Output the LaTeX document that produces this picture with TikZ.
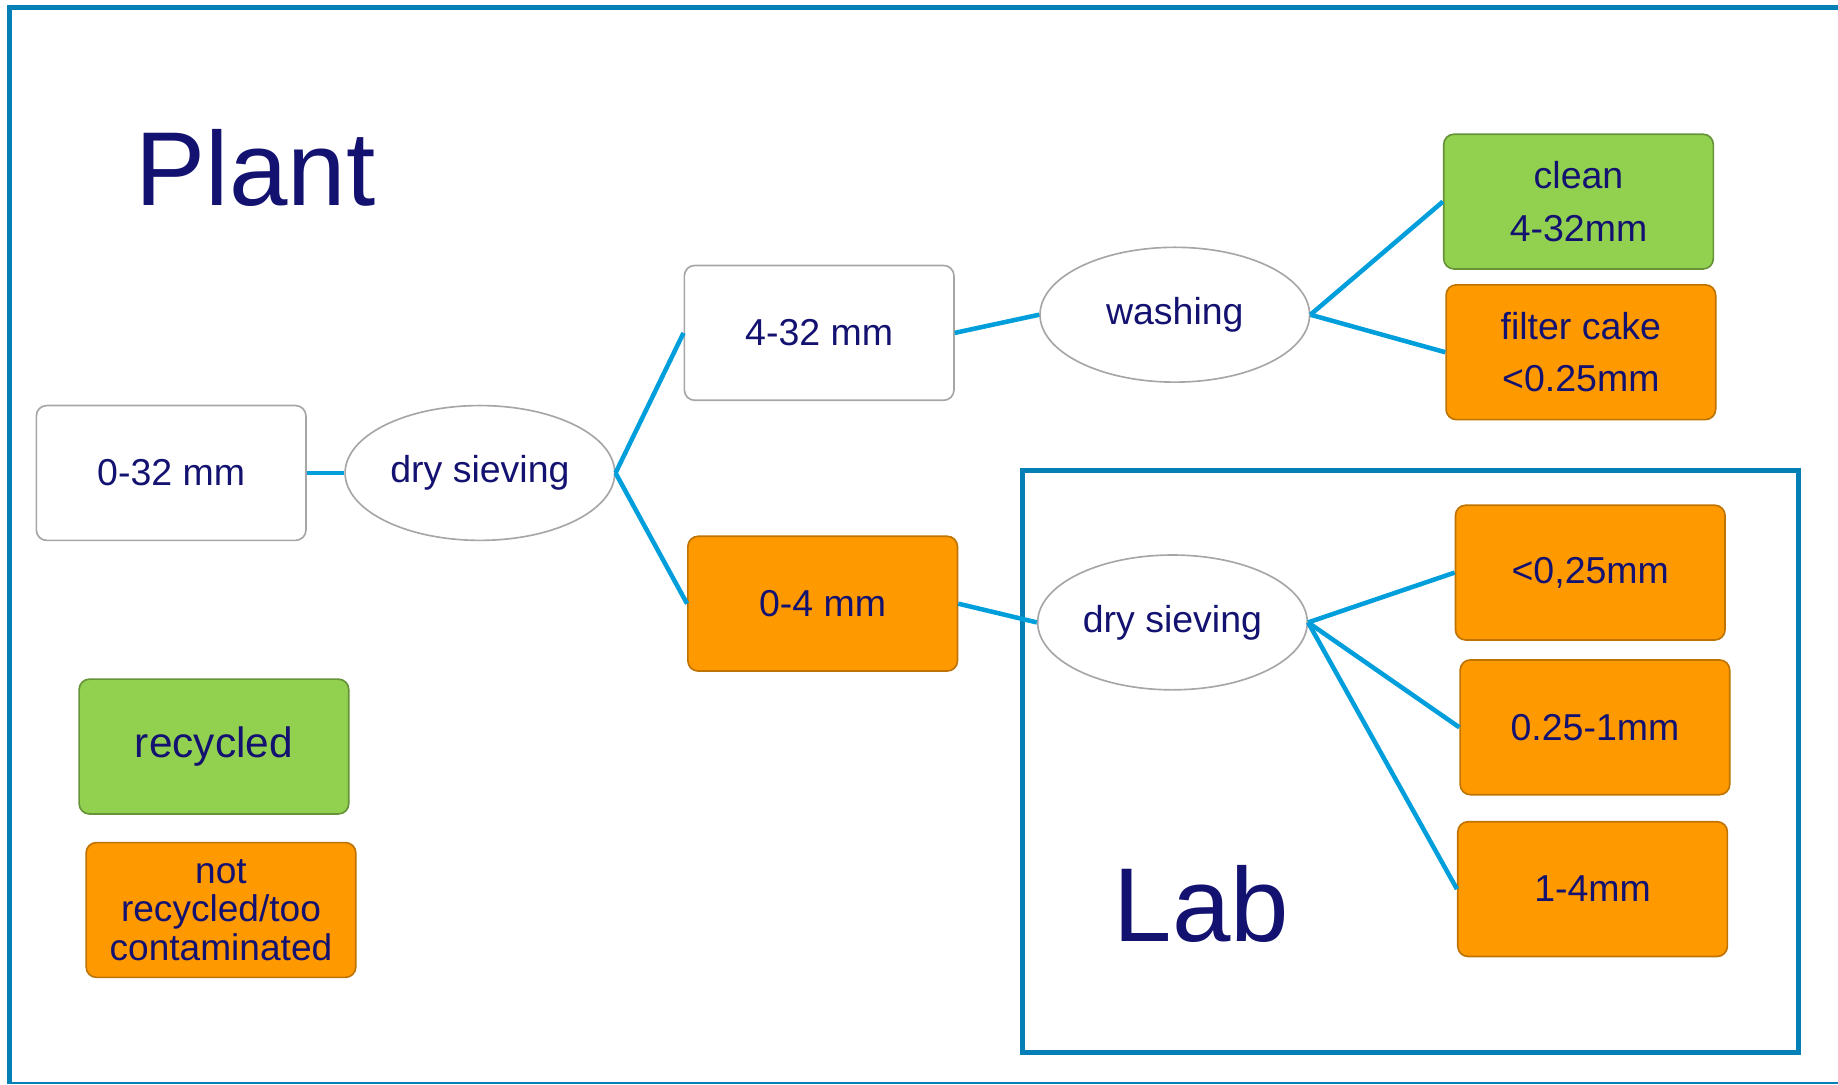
\documentclass[tikz,border=0pt]{standalone}
\usepackage{fontspec}
\setmainfont{Liberation Sans}
\usepackage{xcolor}
\usepackage{tikz}
\usetikzlibrary{positioning,shapes.geometric}

\definecolor{navytext}{RGB}{20,18,112}
\definecolor{frameblue}{RGB}{5,128,182}
\definecolor{linkblue}{RGB}{0,158,219}
\definecolor{recgreen}{RGB}{146,208,80}
\definecolor{recorange}{RGB}{255,153,0}

\begin{document}
\begin{tikzpicture}[
    box/.style={draw=gray!70, rounded corners=2.5pt, minimum height=1.15cm, minimum width=2.3cm, align=center, text=navytext, font=\fontsize{9.1}{12.8}\selectfont},
    oval/.style={ellipse, draw=gray!70, inner sep=0pt, minimum height=1.15cm, minimum width=2.3cm, align=center, text=navytext, font=\fontsize{9.1}{12.8}\selectfont},
    good/.style={box, fill=recgreen, draw=recgreen!70!black},
    bad/.style={box, fill=recorange, draw=recorange!75!black},
    link/.style={draw=linkblue, line width=1.1pt},
    frame/.style={draw=frameblue, line width=1.2pt},
    title/.style={text=navytext, font=\fontsize{25.5}{30}\selectfont, anchor=base},
]
\useasboundingbox (0,0) rectangle (15.68,-9.25);

% outer frame
\draw[frame] (0.085,-9.25) |- (15.68,-0.065);
\draw[draw=frameblue, line width=0.4pt] (0.085,-9.24) -- (15.68,-9.24);

% Plant
\node[title] (plant) at (2.18,-1.75) {Plant};

\node[box] (raw) at (1.46,-4.035) {0-32 mm};
\node[oval, right=0.32cm of raw] (sieve_a) {dry sieving};
\node[box, right=0.58cm of sieve_a, yshift=1.195cm] (coarse) {4-32 mm};
\node[bad, right=0.61cm of sieve_a, yshift=-1.115cm] (fine) {0-4 mm};

\node[oval, right=0.72cm of coarse, yshift=0.155cm] (wash) {washing};
\node[good, right=1.13cm of wash, yshift=0.965cm] (clean) {clean\\4-32mm};
\node[bad, right=1.15cm of wash, yshift=-0.32cm] (cake) {filter cake\\<0.25mm};

\draw[link] (raw.east) -- (sieve_a.west);
\draw[link] (sieve_a.east) -- (coarse.west);
\draw[link] (sieve_a.east) -- (fine.west);
\draw[link] (coarse.east) -- (wash.west);
\draw[link] (wash.east) -- (clean.west);
\draw[link] (wash.east) -- (cake.west);

% Lab
\draw[frame] (8.72,-4.01) rectangle (15.34,-8.98);
\node[title] (lab) at (10.25,-8.03) {Lab};

\node[oval, right=0.67cm of fine, yshift=-0.16cm] (sieve_b) {dry sieving};
\node[bad, right=1.25cm of sieve_b, yshift=0.425cm] (frac_a) {<0,25mm};
\node[bad, right=1.29cm of sieve_b, yshift=-0.895cm] (frac_b) {0.25-1mm};
\node[bad, right=1.27cm of sieve_b, yshift=-2.275cm] (frac_c) {1-4mm};

\draw[link] (fine.east) -- (sieve_b.west);
\draw[link] (sieve_b.east) -- (frac_a.west);
\draw[link] (sieve_b.east) -- (frac_b.west);
\draw[link] (sieve_b.east) -- (frac_c.west);

% legend
\node[good, below=1.17cm of raw, xshift=0.365cm, font=\fontsize{10.3}{12}\selectfont] (leg_good) {recycled};
\node[bad, below=0.23cm of leg_good, xshift=0.06cm, inner sep=1pt, font=\fontsize{9}{9.3}\selectfont] (leg_bad) {not\\recycled/too\\contaminated};

\end{tikzpicture}
\end{document}
